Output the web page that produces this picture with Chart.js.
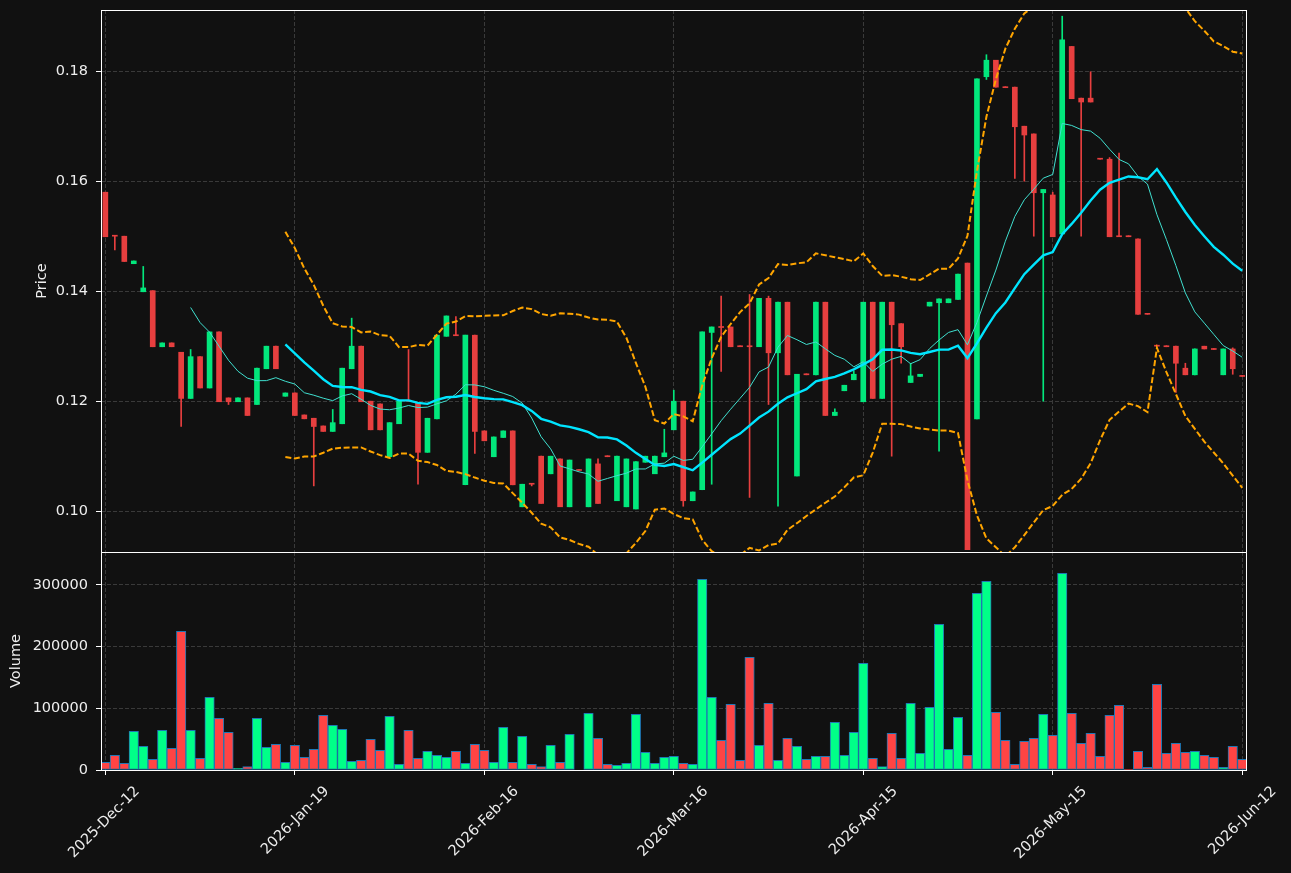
<!DOCTYPE html>
<html>
<head>
<meta charset="utf-8">
<script src="https://cdn.jsdelivr.net/npm/chart.js@4.4.1/dist/chart.umd.min.js"></script>
<style>
  html, body { margin: 0; padding: 0; background: #111111; }
  #wrap { position: relative; width: 1291px; height: 873px; background: #111111; overflow: hidden; }
  canvas { position: absolute; left: 0; }
  #price { top: 0; }
  #volume { top: 552px; }
</style>
</head>
<body>
<div id="wrap">
  <canvas id="price" width="1291" height="553"></canvas>
  <canvas id="volume" width="1291" height="321"></canvas>
</div>
<script>
// daily candles (index 0 = 2025-Dec-12)
const opens = [
  0.1580, 0.1501, 0.1500, 0.1450, 0.1399, 0.1401, 0.1299, 0.1306, 0.1289, 0.1205,
  0.1281, 0.1224, 0.1326, 0.1206, 0.1199, 0.1206, 0.1194, 0.1259, 0.1300, 0.1209,
  0.1215, 0.1175, 0.1169, 0.1155, 0.1145, 0.1159, 0.1259, 0.1300, 0.1200, 0.1195,
  0.1099, 0.1159, 0.1201, 0.1197, 0.1107, 0.1168, 0.1318, 0.1320, 0.1048, 0.1320,
  0.1146, 0.1099, 0.1134, 0.1146, 0.1008, 0.1050, 0.1100, 0.1068, 0.1095, 0.1008,
  0.1075, 0.1008, 0.1086, 0.1100, 0.1019, 0.1008, 0.1004, 0.1089, 0.1068, 0.1099,
  0.1148, 0.1200, 0.1019, 0.1039, 0.1325, 0.1335, 0.1335, 0.1300, 0.1300, 0.1299,
  0.1387, 0.1288, 0.1380, 0.1064, 0.1249, 0.1248, 0.1380, 0.1174, 0.1219, 0.1239,
  0.1199, 0.1380, 0.1205, 0.1380, 0.1341, 0.1234, 0.1245, 0.1373, 0.1379, 0.1379,
  0.1385, 0.1451, 0.1168, 0.1790, 0.1820, 0.1771, 0.1771, 0.1700, 0.1686, 0.1579,
  0.1575, 0.1504, 0.1845, 0.1751, 0.1751, 0.1641, 0.1640, 0.1500, 0.1500, 0.1495,
  0.1359, 0.1301, 0.1300, 0.1300, 0.1260, 0.1248, 0.1300, 0.1295, 0.1248, 0.1295,
  0.1246
];
const highs = [
  0.1580, 0.1501, 0.1500, 0.1455, 0.1445, 0.1401, 0.1306, 0.1306, 0.1289, 0.1294,
  0.1281, 0.1326, 0.1326, 0.1206, 0.1206, 0.1206, 0.1260, 0.1300, 0.1300, 0.1215,
  0.1215, 0.1175, 0.1169, 0.1155, 0.1185, 0.1260, 0.1351, 0.1300, 0.1200, 0.1195,
  0.1161, 0.1200, 0.1294, 0.1197, 0.1169, 0.1320, 0.1355, 0.1354, 0.1320, 0.1320,
  0.1146, 0.1135, 0.1146, 0.1146, 0.1049, 0.1050, 0.1100, 0.1100, 0.1095, 0.1093,
  0.1075, 0.1095, 0.1095, 0.1100, 0.1100, 0.1095, 0.1090, 0.1100, 0.1100, 0.1149,
  0.1220, 0.1200, 0.1035, 0.1326, 0.1335, 0.1391, 0.1335, 0.1300, 0.1394, 0.1387,
  0.1391, 0.1380, 0.1380, 0.1249, 0.1249, 0.1380, 0.1380, 0.1186, 0.1229, 0.1255,
  0.1380, 0.1380, 0.1380, 0.1380, 0.1341, 0.1269, 0.1249, 0.1380, 0.1386, 0.1386,
  0.1431, 0.1451, 0.1786, 0.1830, 0.1820, 0.1771, 0.1771, 0.1700, 0.1686, 0.1585,
  0.1580, 0.1900, 0.1845, 0.1751, 0.1799, 0.1641, 0.1643, 0.1651, 0.1500, 0.1495,
  0.1359, 0.1301, 0.1300, 0.1300, 0.1269, 0.1295, 0.1300, 0.1295, 0.1295, 0.1297,
  0.1246
];
const lows = [
  0.1499, 0.1475, 0.1454, 0.1450, 0.1399, 0.1299, 0.1299, 0.1299, 0.1154, 0.1205,
  0.1224, 0.1224, 0.1199, 0.1194, 0.1199, 0.1174, 0.1194, 0.1259, 0.1259, 0.1209,
  0.1174, 0.1168, 0.1046, 0.1145, 0.1145, 0.1159, 0.1259, 0.1199, 0.1148, 0.1148,
  0.1099, 0.1159, 0.1200, 0.1049, 0.1107, 0.1168, 0.1318, 0.1319, 0.1048, 0.1105,
  0.1128, 0.1099, 0.1134, 0.1048, 0.1008, 0.1046, 0.1014, 0.1068, 0.1008, 0.1008,
  0.1074, 0.1008, 0.1014, 0.1099, 0.1019, 0.1008, 0.1004, 0.1089, 0.1068, 0.1099,
  0.1148, 0.1009, 0.1019, 0.1039, 0.1049, 0.1254, 0.1299, 0.1299, 0.1025, 0.1299,
  0.1194, 0.1009, 0.1248, 0.1064, 0.1248, 0.1248, 0.1174, 0.1174, 0.1219, 0.1239,
  0.1199, 0.1205, 0.1205, 0.1100, 0.1269, 0.1234, 0.1245, 0.1373, 0.1109, 0.1379,
  0.1385, 0.0930, 0.1168, 0.1785, 0.1771, 0.1770, 0.1605, 0.1600, 0.1500, 0.1200,
  0.1499, 0.1504, 0.1750, 0.1500, 0.1744, 0.1640, 0.1499, 0.1499, 0.1499, 0.1358,
  0.1358, 0.1300, 0.1299, 0.1216, 0.1248, 0.1248, 0.1295, 0.1294, 0.1248, 0.1249,
  0.1245
];
const closes = [
  0.1499, 0.1500, 0.1454, 0.1455, 0.1406, 0.1299, 0.1306, 0.1299, 0.1205, 0.1281,
  0.1224, 0.1326, 0.1199, 0.1199, 0.1206, 0.1174, 0.1260, 0.1300, 0.1259, 0.1215,
  0.1174, 0.1168, 0.1154, 0.1145, 0.1161, 0.1260, 0.1300, 0.1199, 0.1148, 0.1148,
  0.1161, 0.1200, 0.1200, 0.1107, 0.1169, 0.1320, 0.1355, 0.1319, 0.1320, 0.1145,
  0.1128, 0.1135, 0.1146, 0.1048, 0.1049, 0.1049, 0.1014, 0.1100, 0.1008, 0.1093,
  0.1074, 0.1095, 0.1014, 0.1099, 0.1100, 0.1095, 0.1090, 0.1100, 0.1100, 0.1106,
  0.1200, 0.1019, 0.1035, 0.1326, 0.1335, 0.1334, 0.1299, 0.1299, 0.1299, 0.1387,
  0.1288, 0.1380, 0.1248, 0.1249, 0.1248, 0.1380, 0.1174, 0.1180, 0.1229, 0.1249,
  0.1380, 0.1205, 0.1380, 0.1339, 0.1299, 0.1246, 0.1249, 0.1380, 0.1386, 0.1386,
  0.1431, 0.0930, 0.1786, 0.1820, 0.1771, 0.1770, 0.1699, 0.1684, 0.1579, 0.1585,
  0.1499, 0.1857, 0.1750, 0.1744, 0.1744, 0.1640, 0.1499, 0.1499, 0.1499, 0.1358,
  0.1358, 0.1300, 0.1299, 0.1269, 0.1248, 0.1295, 0.1295, 0.1294, 0.1295, 0.1259,
  0.1245
];
const volumes = [
  12400, 23800, 10800, 62700, 38400, 17300, 64300, 35100, 224900, 64300,
  18900, 117800, 83800, 61100, 2700, 5400, 83800, 36800, 41600, 12400,
  40000, 20500, 33500, 88600, 72400, 65900, 14100, 15700, 49700, 31900,
  87000, 9200, 64300, 18900, 30300, 23800, 20500, 30300, 10800, 41600,
  31900, 12400, 69200, 12400, 54600, 9200, 5400, 40000, 12400, 57800,
  0, 91900, 51400, 9200, 7600, 10800, 90300, 28600, 10800, 20500,
  22200, 10800, 9200, 309200, 117800, 48100, 106500, 15700, 182700, 40000,
  108100, 15700, 51400, 38400, 17300, 22200, 22200, 77300, 23800, 61100,
  173000, 18900, 5400, 59500, 18900, 108100, 27000, 101600, 236200, 33500,
  85400, 23800, 286500, 305900, 93500, 48100, 9200, 46500, 51400, 90300,
  56200, 318900, 91900, 43200, 59500, 22200, 88600, 104900, 1000, 30300,
  4300, 138900, 27000, 43200, 28600, 30300, 23800, 20500, 4300, 38400,
  17300
];
const dateTicks = ['2025-Dec-12', '2026-Jan-19', '2026-Feb-16', '2026-Mar-16', '2026-Apr-15', '2026-May-15', '2026-Jun-12'];
const tickStep = 20;
const priceTicks = [0.10, 0.12, 0.14, 0.16, 0.18];
const volumeTicks = [0, 100000, 200000, 300000];

// moving averages and bollinger bands from the closes
function rollingMean(values, n) {
  return values.map((_, i) => {
    if (i < n - 1) return null;
    return values.slice(i - n + 1, i + 1).reduce((s, v) => s + v, 0) / n;
  });
}
function rollingStd(values, n) {
  const mean = rollingMean(values, n);
  return values.map((_, i) => {
    if (mean[i] === null) return null;
    const w = values.slice(i - n + 1, i + 1);
    return Math.sqrt(w.reduce((s, v) => s + (v - mean[i]) ** 2, 0) / n);
  });
}
const ma10 = rollingMean(closes, 10);
const ma20 = rollingMean(closes, 20);
const sd20 = rollingStd(closes, 20);
const bbUpper = ma20.map((m, i) => m === null ? null : m + 2 * sd20[i]);
const bbLower = ma20.map((m, i) => m === null ? null : m - 2 * sd20[i]);

const up = closes.map((c, i) => c >= opens[i]);
const candleUp = '#02e77c', candleDown = '#e73f3f';
const volUp = '#00ff88', volDown = '#ff4444';
const textColor = '#eeeeee';
const gridColor = '#3a3a3a';
const font = { family: 'DejaVu Sans', size: 14.5 };

Chart.defaults.font.family = 'DejaVu Sans';
Chart.defaults.color = textColor;

const xMin = -0.46, xMax = 120.4;
const xTickValues = dateTicks.map((_, k) => k * tickStep);

// white box round each panel
const framePlugin = {
  id: 'frame',
  afterDraw(chart) {
    const { ctx, chartArea: a } = chart;
    const l = Math.round(a.left) + 0.5, t = Math.round(a.top) + 0.5;
    const r = Math.round(a.right) + 0.5, b = Math.round(a.bottom) + 0.5;
    ctx.save();
    ctx.strokeStyle = '#ffffff';
    ctx.lineWidth = 1;
    ctx.strokeRect(l, t, r - l, b - t);
    ctx.restore();
  }
};

const xy = arr => arr.map((v, i) => ({ x: i, y: v }));

new Chart(document.getElementById('price'), {
  type: 'bar',
  data: {
    datasets: [
      {
        label: 'wick',
        data: closes.map((c, i) => ({ x: i, y: [lows[i], highs[i]] })),
        backgroundColor: up.map(u => u ? candleUp : candleDown),
        barThickness: 1,
        grouped: false,
        minBarLength: 1,
        order: 6
      },
      {
        label: 'body',
        data: closes.map((c, i) => ({ x: i, y: [Math.min(opens[i], c), Math.max(opens[i], c)] })),
        backgroundColor: up.map(u => u ? candleUp : candleDown),
        barThickness: 5,
        grouped: false,
        minBarLength: 1,
        order: 5
      },
      {
        type: 'line', label: 'MA10', data: xy(ma10),
        borderColor: '#40e0d0', borderWidth: 1, pointRadius: 0, order: 4
      },
      {
        type: 'line', label: 'MA20', data: xy(ma20),
        borderColor: '#00e5ff', borderWidth: 2.4, pointRadius: 0, order: 3
      },
      {
        type: 'line', label: 'BB upper', data: xy(bbUpper),
        borderColor: '#ffa500', borderWidth: 2, borderDash: [6, 2.6], pointRadius: 0, order: 2
      },
      {
        type: 'line', label: 'BB lower', data: xy(bbLower),
        borderColor: '#ffa500', borderWidth: 2, borderDash: [6, 2.6], pointRadius: 0, order: 1
      }
    ]
  },
  options: {
    responsive: false,
    animation: false,
    events: [],
    devicePixelRatio: 1,
    layout: { padding: { left: 0, right: 45, top: 10, bottom: 1 } },
    plugins: { legend: { display: false }, tooltip: { enabled: false } },
    scales: {
      x: {
        type: 'linear', min: xMin, max: xMax, offset: false,
        afterBuildTicks: s => { s.ticks = xTickValues.map(v => ({ value: v })); },
        afterFit: s => { s.height = 0; s.paddingLeft = 0; s.paddingRight = 0; },
        ticks: { display: false },
        grid: { color: gridColor, lineWidth: 1, drawTicks: false, offset: false },
        border: { display: false, dash: [4, 2] }
      },
      y: {
        min: 0.09258, max: 0.19113,
        afterBuildTicks: s => { s.ticks = priceTicks.map(v => ({ value: v })); },
        afterFit: s => { s.width = 101; s.paddingTop = 0; s.paddingBottom = 0; },
        ticks: { callback: v => v.toFixed(2), color: textColor, font: font, padding: 8 },
        grid: { color: gridColor, lineWidth: 1, tickColor: '#ffffff', tickLength: 5, tickWidth: 1, tickBorderDash: [] },
        border: { display: false, dash: [4, 2] },
        title: { display: true, text: 'Price', color: textColor, font: font, padding: { top: 33.3, bottom: 0 } }
      }
    }
  },
  plugins: [framePlugin]
});

new Chart(document.getElementById('volume'), {
  type: 'bar',
  data: {
    datasets: [{
      label: 'Volume',
      data: xy(volumes),
      backgroundColor: up.map(u => u ? volUp : volDown),
      borderColor: '#1f77b4',
      borderWidth: 1,
      borderSkipped: false,
      barPercentage: 1,
      categoryPercentage: 1
    }]
  },
  options: {
    responsive: false,
    animation: false,
    events: [],
    devicePixelRatio: 1,
    layout: { padding: { left: 0, right: 45, top: 0, bottom: 0 } },
    plugins: { legend: { display: false }, tooltip: { enabled: false } },
    scales: {
      x: {
        type: 'linear', min: xMin, max: xMax, offset: false,
        afterBuildTicks: s => { s.ticks = xTickValues.map(v => ({ value: v })); },
        afterFit: s => { s.height = 103; s.paddingLeft = 0; s.paddingRight = 0; },
        ticks: {
          callback: v => dateTicks[Math.round(v / tickStep)],
          color: textColor, font: font, minRotation: 45, maxRotation: 45,
          autoSkip: false, padding: 8, labelOffset: 32
        },
        grid: { color: gridColor, lineWidth: 1, tickColor: '#ffffff', tickLength: 5, tickWidth: 1, tickBorderDash: [], offset: false },
        border: { display: false, dash: [4, 2] }
      },
      y: {
        min: 0, max: 353500,
        afterBuildTicks: s => { s.ticks = volumeTicks.map(v => ({ value: v })); },
        afterFit: s => { s.width = 101; s.paddingTop = 0; s.paddingBottom = 0; },
        ticks: { callback: v => String(v), color: textColor, font: font, padding: 8 },
        grid: { color: gridColor, lineWidth: 1, tickColor: '#ffffff', tickLength: 5, tickWidth: 1, tickBorderDash: [] },
        border: { display: false, dash: [4, 2] },
        title: { display: true, text: 'Volume', color: textColor, font: font, padding: { top: 8, bottom: 0 } }
      }
    }
  },
  plugins: [framePlugin]
});
</script>
</body>
</html>
